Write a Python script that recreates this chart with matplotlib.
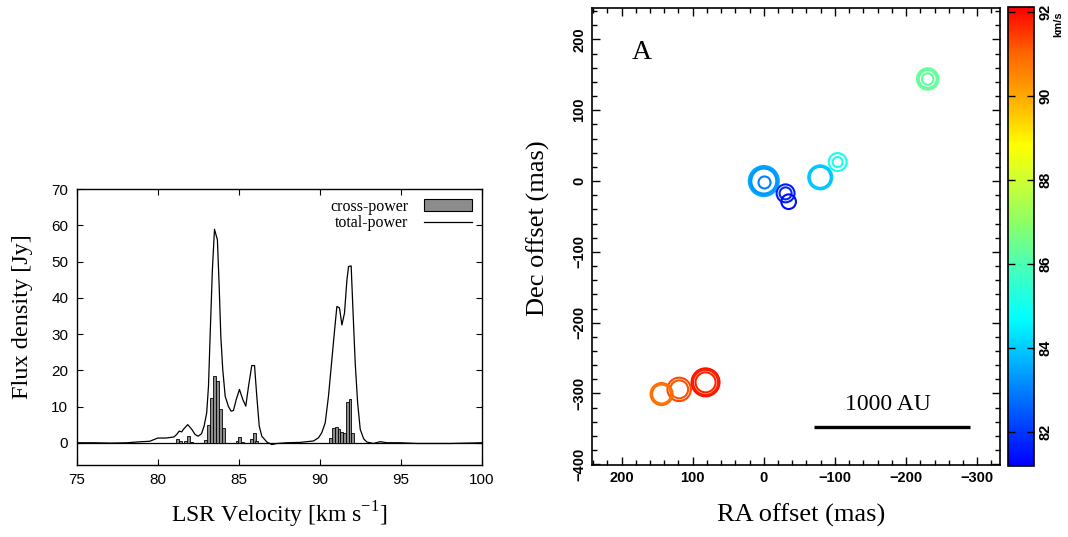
import numpy as np
import matplotlib
matplotlib.use('Agg')
import matplotlib.pyplot as plt
from matplotlib.colors import LinearSegmentedColormap, Normalize
from matplotlib.patches import Patch
from matplotlib.lines import Line2D

# Espectro total-power (velocidade LSR em km/s, fluxo em Jy)
VEL_TP = [75.0, 76.0, 77.1, 78.1, 79.0, 79.5, 80.0, 80.5, 81.0, 81.17, 81.32, 81.48,
          81.58, 81.85, 82.1, 82.3, 82.49, 82.7, 82.86, 83.02, 83.13, 83.23, 83.37,
          83.5, 83.68, 83.79, 83.89, 84.01, 84.16, 84.36, 84.53, 84.67, 84.84, 85.04,
          85.25, 85.43, 85.6, 85.8, 85.97, 86.11, 86.26, 86.42, 86.73, 87.04, 87.35,
          87.96, 88.79, 89.61, 89.92, 90.12, 90.33, 90.53, 90.74, 90.91, 91.05, 91.21,
          91.36, 91.52, 91.67, 91.77, 91.93, 92.04, 92.18, 92.33, 92.49, 92.7, 92.9,
          93.31, 93.72, 94.14, 94.96, 95.99, 97.02, 98.05, 99.07, 100.0]
FLUX_TP = [0.0, 0.0, -0.1, 0.0, 0.3, 0.4, 1.3, 1.3, 1.6, 2.3, 3.2, 3.0,
           3.7, 5.0, 3.7, 2.3, 1.8, 2.5, 4.6, 8.3, 15.6, 29.4, 47.7,
           58.9, 56.0, 43.1, 29.4, 20.2, 12.8, 10.0, 8.7, 8.9, 11.9, 14.7,
           11.9, 10.1, 15.6, 21.3, 21.3, 12.8, 4.6, 1.8, 0.2, -0.5, -0.2,
           0.0, 0.1, 0.5, 1.4, 2.8, 5.5, 12.8, 22.9, 31.2, 37.6, 37.2,
           32.5, 35.8, 45.0, 48.6, 48.8, 36.7, 22.0, 11.0, 3.7, 1.1, 0.2,
           -0.2, 0.3, 0.0, 0.0, -0.2, -0.2, -0.2, -0.1, 0.0]

# Espectro cross-power (canais)
VEL_CP = [81.21, 81.39, 81.72, 81.90, 82.07,
          82.96, 83.15, 83.34, 83.52, 83.71, 83.88, 84.04,
          84.89, 85.06, 85.22, 85.77, 85.94, 86.10,
          90.68, 90.86, 91.02, 91.18, 91.35, 91.51, 91.69, 91.86, 92.02]
FLUX_CP = [0.9, 0.6, 0.5, 1.8, 0.3,
           0.7, 5.0, 12.4, 18.4, 16.9, 9.2, 4.1,
           0.6, 1.6, 0.3, 0.9, 2.8, 0.5,
           1.4, 4.0, 4.3, 3.9, 3.0, 2.6, 11.2, 12.2, 2.8]
LARGURA_CANAL = 0.18

# Spots maser (offset RA/Dec em mas, velocidade km/s, fluxo Jy)
SPOT_RA = [-230.4, -230.4, -230.4, -103.8, -103.8, -79.3, -79.3,
           0.0, 0.0, 0.0, -1.0, -30.6, -30.6, -34.9,
           81.9, 81.9, 81.9, 119.0, 119.0, 143.7, 143.7]
SPOT_DEC = [144.1, 144.1, 144.1, 26.8, 26.8, 5.2, 5.2,
            0.0, 0.0, 0.0, -2.0, -17.4, -17.4, -29.2,
            -284.3, -284.3, -284.3, -294.2, -294.2, -300.8, -300.8]
SPOT_VEL = [86.4, 86.3, 86.2, 85.0, 85.1, 84.0, 83.9,
            83.5, 83.4, 83.3, 83.0, 81.6, 81.8, 81.4,
            91.9, 91.8, 91.7, 91.3, 91.2, 90.9, 90.8]
SPOT_FLUX = [7.1, 4.1, 0.66, 4.1, 0.31, 9.9, 6.7,
             18.1, 13.7, 11.1, 0.86, 4.1, 0.86, 2.0,
             15.1, 11.1, 5.8, 9.2, 4.1, 7.7, 4.9]

CBAR_TICKS = [82, 84, 86, 88, 90, 92]

SERIF = 'Liberation Serif'
SANS = 'Liberation Sans'


def cria_colormap():
    nos = [(0.0, (0.0, 0.0, 1.0)), (0.1, (0.0, 0.3, 1.0)), (0.32, (0.0, 1.0, 1.0)),
           (0.44, (0.3, 1.0, 0.7)), (0.53, (0.55, 1.0, 0.4)), (0.62, (0.8, 1.0, 0.2)),
           (0.70, (1.0, 1.0, 0.0)), (0.81, (1.0, 0.65, 0.0)), (0.90, (1.0, 0.4, 0.0)),
           (1.0, (1.0, 0.0, 0.0))]
    return LinearSegmentedColormap.from_list('arco', nos)


def painel_espectro(ax):
    ax.bar(VEL_CP, FLUX_CP, width=LARGURA_CANAL, color='#8c8c8c', edgecolor='black',
           linewidth=0.6, zorder=2)
    ax.plot(VEL_TP, FLUX_TP, color='black', linewidth=0.9, zorder=3)
    ax.axhline(0, color='black', linewidth=0.9, zorder=1)
    ax.set_xlim(75, 100)
    ax.set_ylim(-6, 70)
    ax.set_xticks(np.arange(75, 101, 5))
    ax.set_yticks(np.arange(0, 71, 10))
    ax.tick_params(direction='in', top=True, right=True, length=4, width=0.8, pad=6,
                   labelsize=11)
    for lab in ax.get_xticklabels() + ax.get_yticklabels():
        lab.set_family(SANS)
    for s in ax.spines.values():
        s.set_linewidth(1.0)

    handles = [Patch(facecolor='#8c8c8c', edgecolor='black', linewidth=0.8),
               Line2D([], [], color='black', linewidth=0.9)]
    ax.legend(handles, ['cross-power', 'total-power'], loc='upper right', frameon=False,
              markerfirst=False, prop={'family': SERIF, 'size': 11.5}, handlelength=3.0,
              handleheight=0.7, handletextpad=1.0, labelspacing=0.05, borderaxespad=0.2)


def painel_spots(ax, cmap, norm):
    raio_px = 3.5 + 2.7 * np.sqrt(np.array(SPOT_FLUX))
    tam = (2 * raio_px * 0.72) ** 2
    cores = cmap(norm(np.array(SPOT_VEL)))
    ax.scatter(SPOT_RA, SPOT_DEC, s=tam, facecolors='none', edgecolors=cores,
               linewidths=1.5, zorder=3)
    ax.set_xlim(242, -332)
    ax.set_ylim(-401, 244)
    ax.set_xticks([200, 100, 0, -100, -200, -300])
    ax.set_xticks(np.arange(240, -340, -20), minor=True)
    ax.set_yticks([-400, -300, -200, -100, 0, 100, 200])
    ax.set_yticks(np.arange(-400, 241, 20), minor=True)
    ax.set_xticklabels(['200', '100', '0', '\u2212100', '\u2212200', '\u2212300'])
    ax.set_yticklabels(['\u2212400', '\u2212300', '\u2212200', '\u2212100', '0', '100', '200'])
    ax.tick_params(which='both', direction='in', top=True, right=True, width=1.0)
    ax.tick_params(which='major', length=6, pad=4, labelsize=10.5)
    ax.tick_params(which='minor', length=3.5)
    for lab in ax.get_xticklabels():
        lab.set_family(SANS)
        lab.set_fontweight('bold')
    for lab in ax.get_yticklabels():
        lab.set_family(SANS)
        lab.set_fontweight('bold')
        lab.set_rotation(90)
        lab.set_va('center')
    for s in ax.spines.values():
        s.set_linewidth(1.2)

    ax.text(171, 181, 'A', family=SERIF, fontsize=20, ha='center', va='center')
    # barra de escala
    ax.plot([-70.5, -290], [-348, -348], color='black', linewidth=2.4,
            solid_capstyle='butt')
    ax.text(-175, -316, '1000 AU', family=SERIF, fontsize=17, ha='center',
            va='center')


def barra_cores(fig, cax, cmap, norm):
    sm = plt.cm.ScalarMappable(norm=norm, cmap=cmap)
    cb = fig.colorbar(sm, cax=cax)
    cb.set_ticks(CBAR_TICKS)
    cb.outline.set_linewidth(1.2)
    cax.tick_params(direction='in', left=True, right=True, length=5, width=1.0,
                    pad=3, labelsize=10.5)
    for lab in cax.get_yticklabels():
        lab.set_family(SANS)
        lab.set_fontweight('bold')
        lab.set_rotation(90)
        lab.set_va('center')
    fig.text(0.9905, 0.955, 'km/s', family=SANS, fontweight='bold', fontsize=8,
             rotation=90, ha='center', va='center')


def main():
    fig = plt.figure(figsize=(10.68, 5.37), dpi=100)
    cmap = cria_colormap()
    norm = Normalize(81.2, 92.1)

    ax1 = fig.add_axes([0.0718, 0.1350, 0.3795, 0.5130])
    painel_espectro(ax1)
    fig.text(0.2617, 0.041, 'LSR Velocity [km s$^{\\mathregular{-1}}$]', family=SERIF,
             fontsize=17, ha='center', va='center')
    fig.text(0.0206, 0.41, 'Flux density [Jy]', family=SERIF, fontsize=17.5,
             rotation=90, ha='center', va='center')

    ax2 = fig.add_axes([0.5540, 0.1341, 0.3823, 0.8505])
    painel_spots(ax2, cmap, norm)
    fig.text(0.75, 0.041, 'RA offset (mas)', family=SERIF, fontsize=19,
             ha='center', va='center')
    fig.text(0.5037, 0.575, 'Dec offset (mas)', family=SERIF, fontsize=19,
             rotation=90, ha='center', va='center')

    cax = fig.add_axes([0.9438, 0.1328, 0.0243, 0.8536])
    barra_cores(fig, cax, cmap, norm)

    fig.savefig('out.png', dpi=100)


if __name__ == "__main__":
    main()
